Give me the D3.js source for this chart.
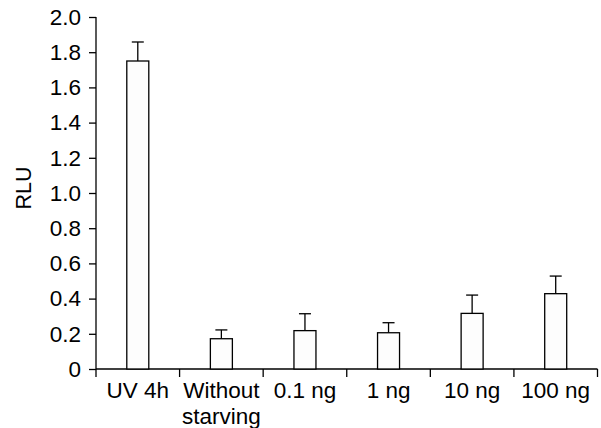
<!DOCTYPE html>
<html><head><meta charset="utf-8">
<script src="https://cdn.jsdelivr.net/npm/d3@7"></script>
<style>body{margin:0;background:#fff}svg{display:block}</style>
</head><body>
<svg id="c" width="601" height="428"></svg>
<script>
const categories = [["UV 4h"], ["Without", "starving"], ["0.1 ng"], ["1 ng"], ["10 ng"], ["100 ng"]];
const values = [1.75, 0.172, 0.218, 0.206, 0.316, 0.428];
const errors = [0.108, 0.05, 0.096, 0.057, 0.104, 0.1];
const yTicks = [0, 0.2, 0.4, 0.6, 0.8, 1.0, 1.2, 1.4, 1.6, 1.8, 2.0];
const yLabel = "RLU";

const svg = d3.select("#c");
const font = "'Liberation Sans', Arial, sans-serif";
const fs = 22.5;
const x = d3.scaleBand().domain(d3.range(categories.length)).range([96, 597.5]).padding(0);
const y = d3.scaleLinear().domain([0, 2]).range([369, 17]);
const barW = 22, capW = 12;

const gx = svg.append("g").attr("transform", "translate(0,369)");
gx.append("line").attr("x1", 96).attr("x2", 597.5).attr("stroke", "#000").attr("stroke-width", 1.3);
const bounds = d3.range(categories.length + 1).map(i => i < categories.length ? x(i) : x(categories.length - 1) + x.bandwidth());
gx.selectAll(".t").data(bounds).join("line")
  .attr("x1", d => d).attr("x2", d => d).attr("y1", 0).attr("y2", 8)
  .attr("stroke", "#000").attr("stroke-width", 1.3);

const yAxis = d3.axisLeft(y).tickValues(yTicks).tickSize(7).tickPadding(8)
  .tickFormat(d => d === 0 ? "0" : d3.format(".1f")(d));
const gy = svg.append("g").attr("transform", "translate(96,0)").call(yAxis);
gy.select(".domain").attr("stroke", "#000").attr("stroke-width", 1.3).attr("d", "M0,369V17");
gy.selectAll(".tick line").attr("stroke", "#000").attr("stroke-width", 1.3);
gy.selectAll(".tick text").attr("font-family", font).attr("font-size", fs).attr("fill", "#000");

svg.append("text").attr("transform", "translate(31,188) rotate(-90)")
  .attr("text-anchor", "middle").attr("font-family", font).attr("font-size", 21.5).text(yLabel);

const g = svg.append("g");
values.forEach((v, i) => {
  const cx = x(i) + x.bandwidth() / 2;
  const top = y(v + errors[i]);
  g.append("line").attr("x1", cx).attr("x2", cx).attr("y1", y(v)).attr("y2", top).attr("stroke", "#000").attr("stroke-width", 1.3);
  g.append("line").attr("x1", cx - capW / 2).attr("x2", cx + capW / 2).attr("y1", top).attr("y2", top).attr("stroke", "#000").attr("stroke-width", 1.3);
  g.append("rect").attr("x", cx - barW / 2).attr("y", y(v)).attr("width", barW).attr("height", y(0) - y(v))
    .attr("fill", "#fdfdfd").attr("stroke", "#000").attr("stroke-width", 1.3);
});

categories.forEach((lines, i) => {
  const cx = x(i) + x.bandwidth() / 2;
  const t = svg.append("text").attr("text-anchor", "middle").attr("font-family", font).attr("font-size", fs).attr("fill", "#000");
  lines.forEach((l, j) => t.append("tspan").attr("x", cx).attr("y", 398 + j * 26).text(l));
});
</script>
</body></html>
